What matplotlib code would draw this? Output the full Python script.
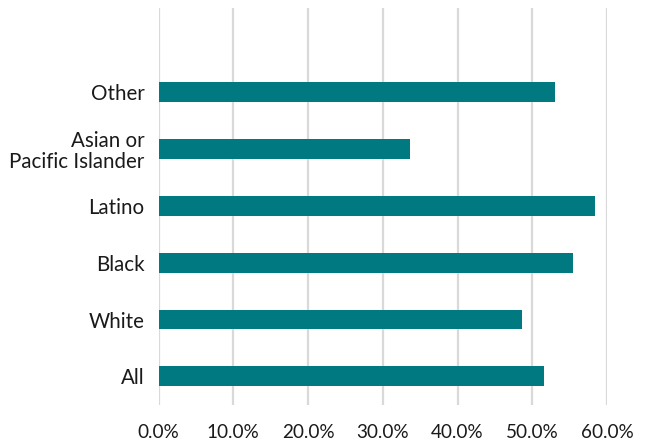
import matplotlib.pyplot as plt
from matplotlib.ticker import FuncFormatter

# share of each group, in percent (bottom to top)
groups = ["All", "White", "Black", "Latino", "Asian or\nPacific Islander", "Other"]
shares = [51.5, 48.6, 55.4, 58.4, 33.7, 53.1]
xticks = [0, 10, 20, 30, 40, 50, 60]

plt.rcParams['font.family'] = ['Lato', 'DejaVu Sans']

fig = plt.figure(figsize=(6.48, 4.44), dpi=100)
ax = fig.add_axes([0.2446, 0.088, 0.6922, 0.895])

ax.barh(range(len(groups)), shares, height=0.35, color='#007A80', zorder=3)

ax.set_xlim(0, 60)
ax.set_ylim(-0.5, 6.48)
ax.set_xticks(xticks)
ax.xaxis.set_major_formatter(FuncFormatter(lambda v, p: '%.1f%%' % v))
ax.set_yticks(range(len(groups)))
ax.set_yticklabels(groups, fontsize=14.8, linespacing=1.05)

ax.grid(axis='x', color='#d9d9d9', linewidth=1.6, zorder=0)
ax.tick_params(axis='y', length=0, pad=10, colors='#1a1a1a')
ax.tick_params(axis='x', length=0, pad=14, labelsize=13.6, colors='#1a1a1a')
for s in ax.spines.values():
    s.set_visible(False)

fig.savefig('out.png', dpi=100)
